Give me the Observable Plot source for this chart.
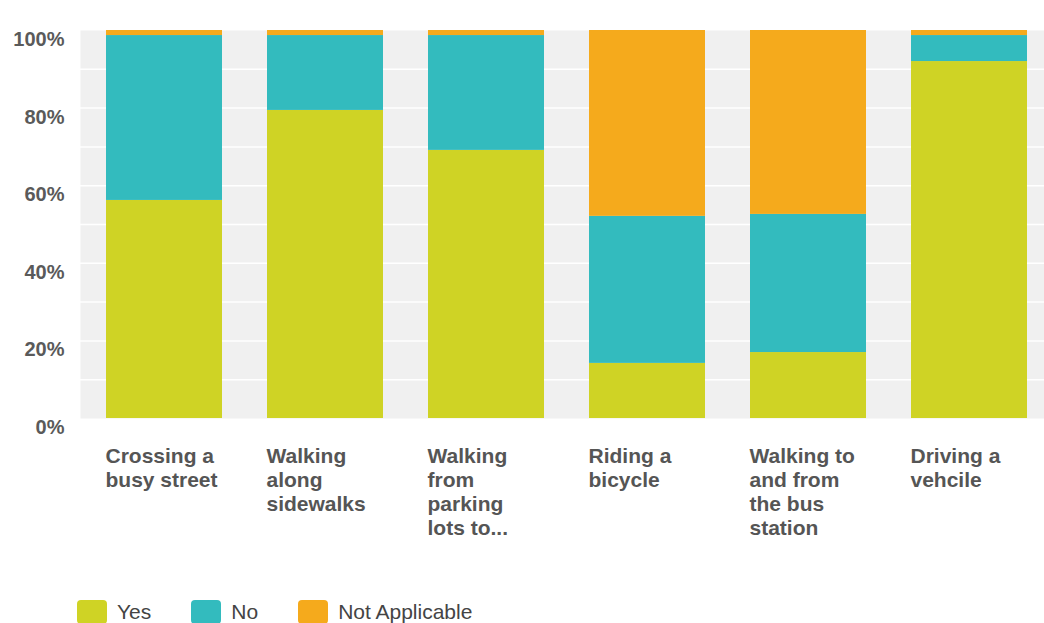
<!DOCTYPE html>
<html>
<head>
<meta charset="utf-8">
<script src="https://cdn.jsdelivr.net/npm/d3@7"></script>
<script src="https://cdn.jsdelivr.net/npm/@observablehq/plot@0.6"></script>
<style>
  body { margin: 0; background: #fff; font-family: "Liberation Sans", Arial, sans-serif; }
  #legend { display: flex; align-items: center; height: 24px; margin-top: 10px; padding-left: 77px; font-size: 21px; color: #444; }
  .item { display: flex; align-items: center; margin-right: 40px; }
  .sw { width: 30px; height: 24px; border-radius: 4px; margin-right: 10px; }
</style>
</head>
<body>
<div id="chart"></div>
<div id="legend"></div>
<script>
const categories = [
  "Crossing a busy street",
  "Walking along sidewalks",
  "Walking from parking lots to...",
  "Riding a bicycle",
  "Walking to and from the bus station",
  "Driving a vehcile"
];
const tickLabels = [
  "Crossing a\nbusy street",
  "Walking\nalong\nsidewalks",
  "Walking\nfrom\nparking\nlots to...",
  "Riding a\nbicycle",
  "Walking to\nand from\nthe bus\nstation",
  "Driving a\nvehcile"
];
const series = ["Yes", "No", "Not Applicable"];
const yesValues = [56.2, 79.4, 69.1, 14.2, 17.0, 92.0];
const noValues = [42.5, 19.3, 29.6, 37.9, 35.6, 6.7];
const naValues = [1.3, 1.3, 1.3, 47.9, 47.4, 1.3];
const colors = ["#cfd325", "#33bbbe", "#f5aa1c"];
const yTicks = [0, 20, 40, 60, 80, 100];
const gridTicks = [10, 20, 30, 40, 50, 60, 70, 80, 90];

const valuesBySeries = [yesValues, noValues, naValues];
const data = [];
series.forEach((s, si) => {
  categories.forEach((c, ci) => {
    data.push({category: c, series: s, value: valuesBySeries[si][ci]});
  });
});
const labelMap = new Map(categories.map((c, i) => [c, tickLabels[i]]));

const chart = Plot.plot({
  width: 1044,
  height: 590,
  marginLeft: 80,
  marginRight: 0,
  marginTop: 30,
  marginBottom: 172,
  style: {fontFamily: "'Liberation Sans', Arial, sans-serif", background: "#fff"},
  x: {domain: categories, range: [80, 1052], paddingInner: 0.28, paddingOuter: 0.155, label: null},
  y: {domain: [0, 100], label: null},
  color: {domain: series, range: colors},
  marks: [
    Plot.frame({fill: "#f0f0f0", stroke: null}),
    Plot.ruleY(gridTicks, {stroke: "#ffffff", strokeWidth: 1.5}),
    Plot.barY(data, Plot.stackY({order: series}, {x: "category", y: "value", fill: "series"})),
    Plot.axisY(yTicks, {
      tickSize: 0, tickPadding: 16, dy: 9,
      tickFormat: d => d + "%",
      fontSize: 20, fontWeight: "bold", fill: "#5a5a5a", label: null
    }),
    Plot.axisX({
      tickSize: 0, tickPadding: 27, textAnchor: "start", dx: -59,
      tickFormat: d => labelMap.get(d),
      lineHeight: 1.15,
      fontSize: 21, fontWeight: "bold", fill: "#555", label: null
    })
  ]
});
document.getElementById("chart").appendChild(chart);

const legend = document.getElementById("legend");
series.forEach((s, i) => {
  const item = document.createElement("div");
  item.className = "item";
  const sw = document.createElement("div");
  sw.className = "sw";
  sw.style.background = colors[i];
  const t = document.createElement("span");
  t.textContent = s;
  item.appendChild(sw);
  item.appendChild(t);
  legend.appendChild(item);
});
</script>
</body>
</html>
